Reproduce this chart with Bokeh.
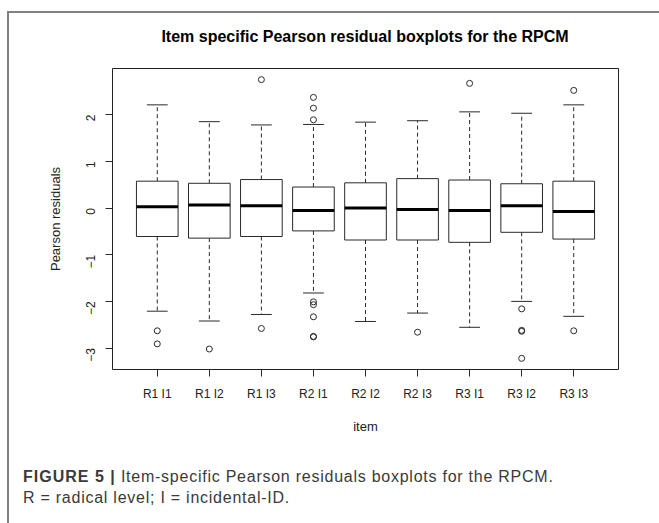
import math
from bokeh.plotting import figure
from bokeh.models import Range1d, FixedTicker, Div
from bokeh.layouts import column
from bokeh.embed import file_html
from bokeh.resources import INLINE

# ---- data ----
items = ["R1 I1", "R1 I2", "R1 I3", "R2 I1", "R2 I2", "R2 I3", "R3 I1", "R3 I2", "R3 I3"]
upper_whisker = [2.21, 1.85, 1.78, 1.79, 1.84, 1.87, 2.06, 2.03, 2.21]
q3 = [0.575, 0.53, 0.61, 0.45, 0.54, 0.63, 0.60, 0.52, 0.575]
median = [0.03, 0.065, 0.05, -0.055, 0.0, -0.03, -0.055, 0.05, -0.075]
q1 = [-0.61, -0.645, -0.61, -0.49, -0.685, -0.685, -0.735, -0.52, -0.665]
lower_whisker = [-2.21, -2.42, -2.28, -1.82, -2.43, -2.25, -2.555, -2.0, -2.32]
outlier_item = ["R1 I1", "R1 I1", "R1 I2", "R1 I3", "R1 I3",
                "R2 I1", "R2 I1", "R2 I1", "R2 I1", "R2 I1", "R2 I1", "R2 I1", "R2 I1",
                "R2 I3", "R3 I1", "R3 I2", "R3 I2", "R3 I2", "R3 I2", "R3 I3", "R3 I3"]
outlier_value = [-2.63, -2.91, -3.02, 2.75, -2.58,
                 2.37, 2.14, 1.89, -2.01, -2.07, -2.33, -2.75, -2.76,
                 -2.66, 2.67, -2.16, -2.62, -2.64, -3.22, 2.52, -2.63]
y_ticks = [-3, -2, -1, 0, 1, 2]

title_text = "Item specific Pearson residual boxplots for the RPCM"
caption_bold = "FIGURE 5 |"
caption_line1 = "Item-specific Pearson residuals boxplots for the RPCM."
caption_line2 = "R = radical level; I = incidental-ID."

# ---- derived positions (R boxplot conventions) ----
pos = list(range(1, len(items) + 1))
ox = [items.index(it) + 1 for it in outlier_item]
box_w = 0.8
cap_w = 0.4

all_vals = upper_whisker + lower_whisker + outlier_value
ymin, ymax = min(all_vals), max(all_vals)
ypad = 0.04 * (ymax - ymin)
xpad = 0.04 * (len(items))

FW = 650
TITLE_H = 40
FH = 387

heading = Div(
    text=title_text, width=FW, height=TITLE_H, margin=0,
    styles={"font-family": "'Liberation Sans', Arial, sans-serif", "font-size": "16px",
            "font-weight": "bold", "color": "black", "line-height": "20px",
            "text-align": "center", "padding-left": "62px", "padding-top": "14px",
            "box-sizing": "border-box", "white-space": "nowrap"})

p = figure(width=FW, height=FH, output_backend="svg", toolbar_location=None, title=None,
           x_range=Range1d(0.5 - xpad, len(items) + 0.5 + xpad),
           y_range=Range1d(ymin - ypad, ymax + ypad),
           min_border_left=103, min_border_right=41,
           min_border_top=15, min_border_bottom=71,
           background_fill_color="white", border_fill_color="white")
p.grid.visible = False
p.outline_line_color = "#222222"
p.outline_line_width = 1

ink = "#2a2a2a"
# whiskers (dashed)
p.segment(x0=pos, y0=q3, x1=pos, y1=upper_whisker, line_color=ink, line_width=1, line_dash="4 3")
p.segment(x0=pos, y0=q1, x1=pos, y1=lower_whisker, line_color=ink, line_width=1, line_dash="4 3")
# caps
p.segment(x0=[x - cap_w / 2 for x in pos], x1=[x + cap_w / 2 for x in pos],
          y0=upper_whisker, y1=upper_whisker, line_color=ink, line_width=1)
p.segment(x0=[x - cap_w / 2 for x in pos], x1=[x + cap_w / 2 for x in pos],
          y0=lower_whisker, y1=lower_whisker, line_color=ink, line_width=1)
# boxes
p.vbar(x=pos, width=box_w, top=q3, bottom=q1, fill_color="white", line_color=ink, line_width=1)
# medians
p.segment(x0=[x - box_w / 2 for x in pos], x1=[x + box_w / 2 for x in pos],
          y0=median, y1=median, line_color="black", line_width=3)
# outliers
p.scatter(x=ox, y=outlier_value, size=6, marker="circle", fill_color=None,
          line_color=ink, line_width=1)

# axes
for ax in (p.xaxis[0], p.yaxis[0]):
    ax.axis_line_color = None
    ax.major_tick_line_color = ink
    ax.major_tick_out = 7
    ax.major_tick_in = 0
    ax.minor_tick_line_color = None
    ax.major_label_text_font = "Liberation Sans"
    ax.major_label_text_font_size = "12px"
    ax.major_label_text_color = "#222222"
    ax.axis_label_text_font = "Liberation Sans"
    ax.axis_label_text_font_size = "13px"
    ax.axis_label_text_font_style = "normal"
    ax.axis_label_text_color = "#222222"

p.xaxis.ticker = FixedTicker(ticks=pos)
p.xaxis.major_label_overrides = {x: s for x, s in zip(pos, items)}
p.xaxis.major_label_standoff = 10
p.xaxis.axis_label = "item"
p.xaxis.axis_label_standoff = 15

p.yaxis.ticker = FixedTicker(ticks=y_ticks)
p.yaxis.major_label_orientation = math.pi / 2
p.yaxis.major_label_standoff = 15
p.yaxis.axis_label = "Pearson residuals"
p.yaxis.axis_label_standoff = 16

caption = Div(
    text=(f'<span style="font-weight:bold;letter-spacing:1px">{caption_bold}</span> '
          f'{caption_line1}<br>{caption_line2}'),
    width=FW, height=83, margin=0,
    styles={"font-family": "'Liberation Sans', Arial, sans-serif", "font-size": "16px",
            "letter-spacing": "0.75px",
            "line-height": "21px", "color": "#3a3a3a",
            "padding-left": "14px", "padding-top": "26px", "box-sizing": "border-box"})

layout = column(heading, p, caption, spacing=0,
                styles={"margin-left": "7px", "margin-top": "11px",
                        "border-left": "2px solid #808080", "border-top": "2px solid #808080"})

open("out.html", "w").write(file_html(layout, INLINE))
